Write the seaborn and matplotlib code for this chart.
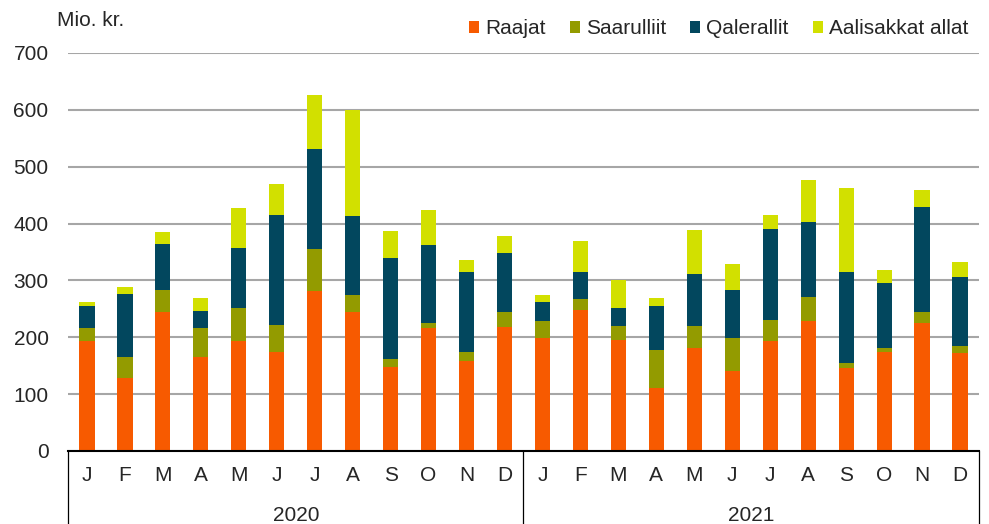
import numpy as np
import pandas as pd
import matplotlib.pyplot as plt
from matplotlib.lines import Line2D
from matplotlib.patches import Patch
import seaborn as sns

# data (mio. kr.)
years = ["2020", "2021"]
months = ["J", "F", "M", "A", "M", "J", "J", "A", "S", "O", "N", "D"]
raajat = [193, 128, 245, 165, 193, 175, 282, 245, 148, 217, 158, 218,
          198, 248, 195, 110, 181, 141, 193, 228, 146, 175, 226, 173]
saarulliit = [24, 37, 38, 51, 59, 46, 73, 29, 13, 9, 16, 27,
              30, 20, 24, 68, 38, 58, 37, 42, 9, 7, 18, 12]
qalerallit = [38, 112, 81, 31, 105, 194, 177, 139, 179, 136, 140, 103,
              34, 47, 32, 77, 93, 85, 160, 132, 160, 113, 185, 121]
aalisakkat = [7, 12, 22, 22, 71, 55, 94, 187, 47, 61, 22, 31,
              13, 55, 50, 14, 77, 45, 25, 75, 147, 24, 30, 27]

series = ["Raajat", "Saarulliit", "Qalerallit", "Aalisakkat allat"]
colors = ["#F75A00", "#939B00", "#02475E", "#D2E000"]

keys = [y + "-" + str(i) for y in years for i in range(12)]
df = pd.DataFrame({"key": keys, "Raajat": raajat, "Saarulliit": saarulliit,
                   "Qalerallit": qalerallit, "Aalisakkat allat": aalisakkat})

sns.set_style("white")
plt.rcParams["font.family"] = ["Liberation Sans", "DejaVu Sans"]
fs = 15

fig = plt.figure(figsize=(9.89, 5.24), dpi=100)
ax = fig.add_axes([68 / 989, 1 - 451 / 524, (979 - 68) / 989, (451 - 53) / 524])

# stacked bars: draw cumulative totals from the top down
cum = df[series].cumsum(axis=1)
for s, c in reversed(list(zip(series, colors))):
    sns.barplot(x=df["key"], y=cum[s], order=keys, color=c, width=0.4,
                saturation=1, errorbar=None, linewidth=0, ax=ax)

ax.set_xlim(-0.5, 23.5)
ax.set_ylim(0, 700)
ax.set_yticks(range(0, 701, 100))
ax.yaxis.grid(True, color="#A6A6A6", linewidth=1.5)
ax.set_axisbelow(True)
for sp in ["left", "right", "top"]:
    ax.spines[sp].set_visible(False)
ax.spines["bottom"].set_color("black")
ax.spines["bottom"].set_linewidth(1.5)
ax.set_xlabel("")
ax.set_ylabel("")
ax.set_xticks(range(24))
ax.set_xticklabels(months * 2)
ax.tick_params(axis="x", length=0, pad=11, labelsize=fs)
ax.tick_params(axis="y", length=0, pad=14, labelsize=fs)

# second axis level: years and separators
trans = ax.get_xaxis_transform()
for i, y in enumerate(years):
    ax.text(i * 12 + 5.5, -0.163, y, transform=trans, ha="center", va="center", fontsize=fs)
for x in [-0.5, 11.5, 23.5]:
    ax.add_line(Line2D([x, x], [0, -0.2], transform=trans, color="black",
                       linewidth=0.9, clip_on=False))

fig.text(57 / 989, 1 - 21 / 524, "Mio. kr.", ha="left", va="center", fontsize=fs)

handles = [Patch(facecolor=c, edgecolor="none") for c in colors]
fig.legend(handles, series, loc="center right", bbox_to_anchor=(0.979, 1 - 29 / 524),
           ncol=4, frameon=False, fontsize=fs, handlelength=0.48, handleheight=0.48,
           handletextpad=0.3, columnspacing=1.15, borderaxespad=0, borderpad=0)

fig.savefig("out.png", dpi=100)
